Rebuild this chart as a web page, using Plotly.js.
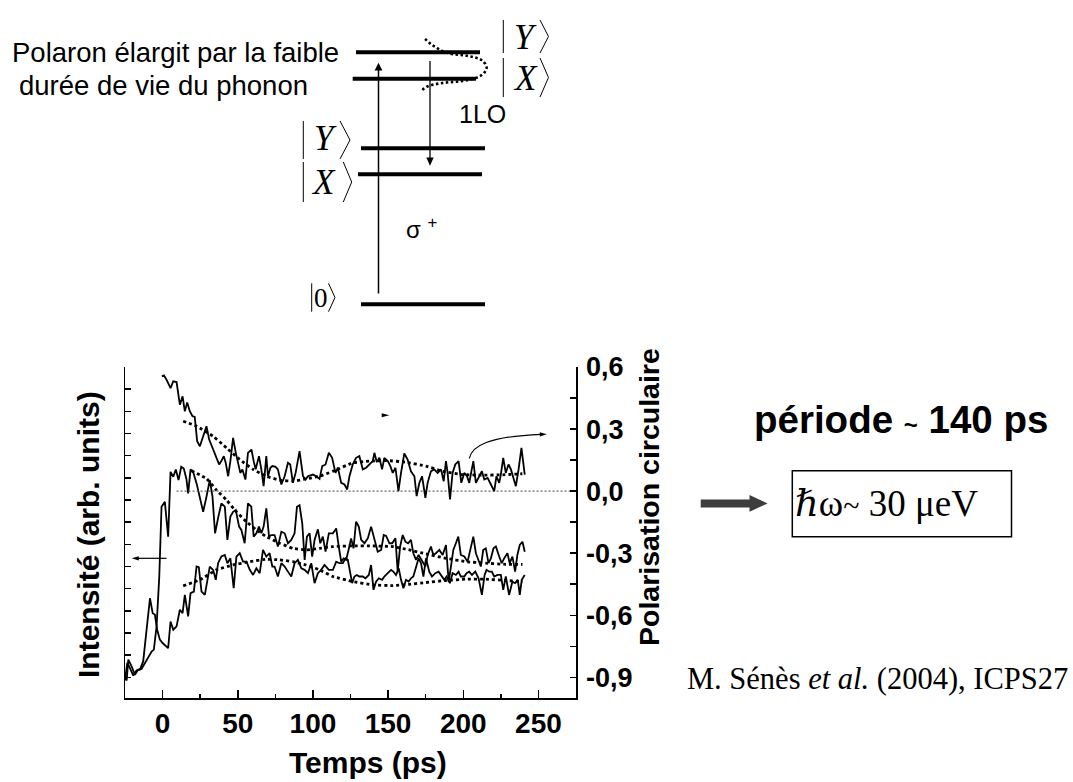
<!DOCTYPE html>
<html><head><meta charset="utf-8">
<script src="https://cdn.plot.ly/plotly-3.0.1.min.js"></script>
<style>html,body{margin:0;padding:0;background:#fff}#chart{width:1073px;height:782px}</style>
</head><body><div id="chart"></div>
<script>
// ---------- DATA ----------
// Circular polarisation (right axis): [time ps, polarisation]
const polarisation = [[-0.5,0.555],[0.9,0.559],[2.6,0.539],[5.3,0.498],[7.1,0.531],[9.3,0.527],[11.5,0.418],[13.3,0.458],[14.8,0.386],[16.4,0.429],[18.1,0.386],[19.9,0.362],[21.4,0.359],[23.0,0.241],[24.8,0.217],[27.0,0.265],[29.2,0.314],[31.0,0.249],[33.6,0.201],[35.8,0.169],[37.6,0.129],[39.1,0.145],[40.7,0.169],[42.0,0.137],[43.6,0.072],[45.1,0.145],[46.9,0.257],[48.7,0.185],[50.2,0.137],[51.7,0.088],[53.1,0.105],[55.1,0.056],[56.8,0.185],[59.1,0.201],[60.6,0.145],[61.9,0.105],[64.1,0.169],[65.7,0.105],[67.2,0.024],[69.0,0.169],[70.1,0.072],[71.7,0.113],[73.0,0.121],[75.2,0.117],[76.7,0.105],[79.0,0.032],[81.2,0.072],[83.4,0.137],[84.9,0.129],[86.7,0.040],[88.5,0.088],[91.1,0.193],[93.4,0.072],[95.1,0.056],[96.7,0.072],[100.0,0.080],[102.2,0.072],[104.4,0.059],[106.2,0.121],[108.4,0.129],[110.6,0.185],[112.8,0.161],[115.0,0.088],[116.6,0.113],[118.8,0.040],[121.0,0.032],[122.8,0.008],[124.3,0.072],[126.5,0.129],[128.7,0.161],[130.9,0.169],[133.2,0.105],[135.4,0.113],[137.6,0.129],[139.8,0.145],[140.9,0.185],[142.5,0.140],[144.2,0.161],[146.0,0.105],[147.5,0.161],[149.8,0.145],[151.5,0.121],[153.1,0.088],[154.9,0.113],[156.9,0.000],[158.6,0.088],[160.8,0.182],[163.0,0.153],[165.2,0.096],[167.5,0.072],[169.0,-0.024],[170.8,0.040],[172.6,0.072],[174.8,-0.032],[176.3,0.040],[178.5,0.096],[180.7,0.105],[183.0,0.088],[185.2,0.105],[187.0,0.048],[188.5,0.145],[189.6,0.088],[191.2,-0.040],[192.9,0.088],[194.7,0.129],[196.9,0.145],[198.7,0.040],[200.7,0.088],[202.5,0.072],[204.0,0.040],[206.7,0.145],[208.4,0.040],[210.6,0.072],[212.4,0.096],[214.0,0.056],[216.2,0.064],[218.4,0.032],[220.6,0.000],[222.1,0.072],[223.9,0.040],[225.0,0.080],[226.6,0.161],[228.3,0.088],[230.1,0.129],[231.7,0.105],[233.2,0.072],[235.0,0.024],[236.8,0.105],[238.7,0.209],[240.9,0.080]];
const polarisationFit = [[13.7,0.338],[22.6,0.314],[33.6,0.265],[42.5,0.209],[51.3,0.153],[60.2,0.105],[69.0,0.072],[77.9,0.053],[86.7,0.048],[95.5,0.059],[104.4,0.072],[113.3,0.096],[126.5,0.137],[137.6,0.145],[148.7,0.148],[161.9,0.140],[175.2,0.121],[186.3,0.096],[199.5,0.080],[212.8,0.077],[226.1,0.079],[239.3,0.084]];

// Intensity curves (left axis, arb. units): [time ps, intensity]
const intensityA = [[-25.0,-0.03],[-23.9,-0.14],[-22.8,0.80],[-20.6,0.50],[-18.4,0.12],[-16.2,0.35],[-14.0,0.38],[-11.8,0.65],[-9.5,0.92],[-7.3,1.16],[-5.8,1.25],[-4.0,2.30],[-2.2,4.55],[-0.7,7.70],[1.5,7.92],[3.7,6.35],[5.3,9.27],[7.1,9.05],[8.8,9.38],[10.6,8.90],[12.4,9.50],[14.1,9.42],[15.9,8.93],[17.0,8.30],[18.6,9.38],[20.3,9.27],[22.6,8.75],[24.8,8.15],[27.0,7.47],[29.2,8.15],[31.4,8.90],[33.2,8.15],[34.9,6.50],[37.1,7.25],[39.1,7.85],[41.4,7.70],[43.1,6.20],[45.1,7.25],[46.9,7.47],[48.7,7.55],[50.9,6.80],[52.4,6.65],[54.6,6.05],[56.8,7.85],[59.0,7.70],[60.6,6.35],[62.4,6.50],[64.1,6.80],[65.7,6.50],[67.2,6.80],[69.0,7.62],[70.8,6.35],[72.3,6.42],[74.5,6.42],[76.7,5.90],[79.0,6.57],[81.2,6.50],[83.4,6.05],[85.6,6.20],[87.8,6.50],[89.4,7.70],[91.1,7.77],[92.9,6.95],[94.5,5.30],[96.0,6.35],[97.8,6.50],[99.5,5.45],[101.1,6.20],[103.3,6.68],[104.9,6.05],[106.6,6.35],[108.4,5.67],[110.6,6.50],[113.3,6.50],[115.5,6.72],[117.2,5.90],[118.8,5.22],[120.4,5.37],[122.1,5.30],[123.7,5.75],[125.4,6.27],[127.0,5.82],[128.7,7.02],[130.5,6.80],[132.1,6.20],[134.3,6.05],[136.5,6.27],[138.7,6.80],[140.9,6.20],[143.1,5.67],[145.4,5.75],[147.1,6.42],[148.7,6.38],[150.9,6.05],[152.7,6.05],[154.9,6.27],[156.4,4.77],[158.0,5.90],[159.7,6.42],[161.5,6.12],[163.3,6.05],[165.2,6.20],[166.8,5.60],[168.6,5.30],[170.3,5.52],[172.6,5.22],[174.8,5.00],[176.3,5.52],[178.5,5.90],[180.1,5.52],[181.8,5.60],[184.1,5.75],[186.3,5.52],[188.5,5.97],[190.3,4.32],[191.8,5.00],[193.4,5.75],[195.1,6.05],[196.7,6.35],[198.4,5.52],[200.7,5.45],[202.9,5.22],[205.1,5.82],[206.7,6.35],[208.4,5.60],[210.2,5.22],[211.7,5.00],[213.3,5.75],[215.0,5.82],[216.8,5.15],[218.4,5.37],[220.1,5.82],[221.7,5.90],[223.9,5.45],[225.6,5.15],[227.2,5.37],[229.4,5.60],[230.9,5.15],[232.7,5.45],[234.5,4.77],[236.0,5.52],[237.6,5.97],[239.4,6.12],[240.9,5.67]];
const intensityAFit = [[19.2,9.32],[29.2,8.97],[35.8,8.45],[42.5,8.00],[49.1,7.47],[55.8,7.02],[62.4,6.65],[69.0,6.35],[77.9,6.05],[86.7,5.82],[95.5,5.75],[104.4,5.82],[113.3,5.90],[126.5,5.93],[139.8,5.93],[153.1,5.90],[164.2,5.75],[175.2,5.57],[188.5,5.37],[201.7,5.22],[215.0,5.15],[228.3,5.10],[239.4,5.10]];
const intensityB = [[-25.0,-0.11],[-23.5,0.65],[-21.7,0.42],[-19.5,0.08],[-17.3,0.32],[-15.1,0.35],[-12.9,0.72],[-10.6,2.30],[-8.4,3.57],[-6.6,2.90],[-5.1,2.82],[-3.6,2.15],[-1.8,1.70],[0.0,1.55],[2.0,1.43],[3.7,1.32],[5.3,2.52],[7.1,2.15],[9.3,2.30],[11.5,3.05],[13.3,2.90],[14.8,3.72],[17.0,2.75],[18.6,3.80],[20.8,3.87],[22.6,5.00],[24.1,4.97],[25.9,3.87],[28.1,3.72],[31.4,5.00],[33.6,4.85],[35.4,4.40],[36.9,5.15],[39.1,5.45],[41.4,5.52],[43.1,5.15],[45.1,5.37],[47.3,4.02],[49.1,5.45],[51.3,5.60],[53.5,5.22],[55.8,5.22],[58.0,4.85],[60.2,4.62],[62.4,4.92],[64.6,4.70],[66.8,5.75],[69.0,5.45],[71.2,5.60],[73.0,5.00],[74.5,5.00],[76.7,4.55],[79.0,5.15],[81.2,5.00],[83.4,4.77],[85.6,4.55],[87.8,5.15],[90.0,5.30],[92.3,4.92],[94.5,4.85],[96.7,4.70],[98.9,5.15],[101.1,4.25],[103.3,4.70],[105.5,4.85],[107.7,5.07],[110.6,4.85],[113.3,4.85],[115.5,5.22],[117.7,5.15],[119.9,5.15],[121.7,5.37],[123.2,5.30],[124.8,4.77],[126.1,4.25],[127.6,4.55],[129.2,4.62],[130.9,4.55],[133.2,4.55],[134.9,4.47],[137.2,4.62],[138.7,5.07],[140.3,3.95],[142.0,4.32],[143.8,4.47],[146.0,4.40],[147.5,4.55],[149.8,4.70],[152.0,4.85],[153.5,4.77],[155.3,4.62],[157.1,4.92],[158.6,4.40],[160.2,4.02],[161.9,4.40],[163.7,4.32],[165.2,4.47],[166.8,4.55],[168.6,5.00],[170.3,5.37],[171.9,5.15],[173.5,4.55],[175.2,5.37],[177.4,4.77],[179.2,4.55],[181.4,4.70],[183.6,4.77],[185.8,4.55],[187.4,4.40],[188.9,4.55],[191.1,4.25],[192.9,4.70],[195.1,4.62],[196.9,4.77],[198.4,4.55],[200.7,4.55],[202.2,4.70],[204.0,4.77],[205.8,4.62],[208.0,4.77],[210.2,4.47],[212.4,3.72],[214.2,4.62],[215.5,4.85],[217.3,4.77],[219.0,4.77],[220.6,4.55],[222.8,4.62],[225.0,4.62],[226.6,3.95],[228.3,4.55],[230.5,3.72],[232.7,4.32],[234.5,4.25],[236.3,4.40],[237.6,3.72],[238.9,4.40],[240.9,4.62]];
const intensityBFit = [[13.7,4.13],[24.8,4.40],[35.8,4.85],[46.9,5.07],[57.9,5.22],[69.0,5.33],[77.9,5.30],[86.7,5.22],[95.5,5.07],[104.4,4.85],[113.3,4.55],[126.5,4.32],[139.8,4.17],[153.1,4.14],[164.2,4.20],[175.2,4.28],[188.5,4.37],[201.7,4.43],[215.0,4.43],[228.3,4.37],[239.4,4.32]];

// zero reference of the polarisation
const zeroLineT = [9.3, 275];
const zeroLineV = [0, 0];

// tick labels
const xTickVals = [0, 50, 100, 150, 200, 250];
const xTickText = ['0', '50', '100', '150', '200', '250'];
const polTickVals = [-0.9, -0.6, -0.3, 0.0, 0.3, 0.6];
const polTickText = ['-0,9', '-0,6', '-0,3', '0,0', '0,3', '0,6'];
const polMinorVals = [-0.75, -0.45, -0.15, 0.15, 0.45];

// ---------- LAYOUT HELPERS ----------
const PW = 1073, PH = 782, ML = 125, MR = 497, MT = 367, MB = 84;
const pw = PW - ML - MR, ph = PH - MT - MB;
const PX = v => (v - ML) / pw;            // page pixel -> paper x
const PY = v => (PH - MB - v) / ph;       // page pixel -> paper y
const ptsPath = (pts, close) => pts.map((p, i) => (i ? 'L' : 'M') + PX(p[0]).toFixed(5) + ',' + PY(p[1]).toFixed(5)).join(' ') + (close ? ' Z' : '');

const SANS = 'Liberation Sans, Arial, Helvetica, sans-serif';
const SERIF = 'Liberation Serif, Times New Roman, DejaVu Serif, serif';

const xs = a => a.map(p => p[0]);
const ys = a => a.map(p => p[1]);

const solid = {color: '#000', width: 1.8, shape: 'linear'};
const dotted = {color: '#000', width: 2.8, dash: '3px,3px', shape: 'spline', smoothing: 0.3};

const traces = [
  {x: xs(intensityB), y: ys(intensityB), yaxis: 'y', mode: 'lines', line: solid, name: 'Intensité 2'},
  {x: xs(intensityA), y: ys(intensityA), yaxis: 'y', mode: 'lines', line: solid, name: 'Intensité 1'},
  {x: xs(intensityAFit), y: ys(intensityAFit), yaxis: 'y', mode: 'lines', line: dotted, name: 'Ajustement 1'},
  {x: xs(intensityBFit), y: ys(intensityBFit), yaxis: 'y', mode: 'lines', line: dotted, name: 'Ajustement 2'},
  {x: zeroLineT, y: zeroLineV, yaxis: 'y2', mode: 'lines', line: {color: '#666', width: 1.3, dash: '2px,2px'}, name: 'zéro'},
  {x: xs(polarisation), y: ys(polarisation), yaxis: 'y2', mode: 'lines', line: solid, name: 'Polarisation circulaire'},
  {x: xs(polarisationFit), y: ys(polarisationFit), yaxis: 'y2', mode: 'lines', line: dotted, name: 'Ajustement polarisation'}
];
traces.forEach(t => { t.showlegend = false; t.hoverinfo = 'skip'; });

const L = (x0, y0, x1, y1, w) => ({type: 'line', xref: 'paper', yref: 'paper', x0: PX(x0), y0: PY(y0), x1: PX(x1), y1: PY(y1), line: {color: '#000', width: w}});
const P = (pts, close, line, fill) => ({type: 'path', xref: 'paper', yref: 'paper', path: ptsPath(pts, close), line: line, fillcolor: fill || 'rgba(0,0,0,0)'});
const ket = (xb, xk, xt, y0, y1) => [L(xb, y0, xb, y1, 1), P([[xk, y0], [xt, (y0 + y1) / 2], [xk, y1]], false, {color: '#000', width: 1})];

const dottedCurve = [[425,39],[428.3,41.7],[431.7,45],[436,47.3],[440,50],[445,52.3],[451.7,54],[458.3,54.7],[465,55.3],[471.7,56.7],[478.3,58.3],[482.7,60.7],[485.3,64],[486.7,67.7],[485.7,70.7],[484,73.3],[480.7,75.7],[476.7,77.7],[471.7,79.3],[465,80.7],[456.7,81.7],[448.3,82.3],[440,83.3],[431.7,85],[426.7,86.7],[423.3,89],[421.7,91.7]];

const shapes = [
  // energy levels
  L(356, 52.3, 480, 52.3, 4),
  L(352.7, 78.7, 476, 78.7, 4),
  L(361, 148.3, 485, 148.3, 4),
  L(358, 174.3, 482, 174.3, 4),
  L(361, 304.3, 485, 304.3, 4),
  // sigma+ excitation arrow
  L(378.5, 293.5, 378.5, 69, 1.5),
  P([[374.6,70.5],[378.5,62.7],[382.4,70.5]], true, {width: 0}, '#000'),
  // 1LO relaxation arrow
  L(430, 61, 430, 158.5, 1.3),
  P([[426.3,157.5],[430,165.7],[433.7,157.5]], true, {width: 0}, '#000'),
  // broadened polaron (dotted)
  {type: 'path', xref: 'paper', yref: 'paper', path: ptsPath(dottedCurve, false), line: {color: '#000', width: 2.6, dash: '2.5px,2.5px'}},
  // ket bars and brackets
  ...ket(503.3, 540, 548.5, 20, 53),
  ...ket(503.3, 540, 548.5, 58, 97),
  ...ket(303.3, 340, 350, 121, 159),
  ...ket(303.3, 343.3, 351.7, 162, 202),
  ...ket(311.7, 328.5, 335, 283.3, 311.7),
  // arrows inside the plot
  L(166.5, 558.3, 136, 558.3, 1.2),
  P([[138.8,556.2],[131.7,558.3],[138.8,560.4]], true, {width: 0}, '#000'),
  {type: 'path', xref: 'paper', yref: 'paper', path: 'M' + PX(469.3) + ',' + PY(458.3) + ' C' + PX(472) + ',' + PY(446) + ' ' + PX(488) + ',' + PY(436.5) + ' ' + PX(541) + ',' + PY(434.3), line: {color: '#000', width: 1.2}},
  P([[539.8,432.2],[546.8,434.3],[539.8,436.4]], true, {width: 0}, '#000'),
  P([[381.7,413.2],[389.3,415.2],[381.7,417.2]], true, {width: 0}, '#000'),
  // thick arrow and box
  {type: 'rect', xref: 'paper', yref: 'paper', x0: PX(700.7), x1: PX(751), y0: PY(499.4), y1: PY(507.4), line: {width: 0}, fillcolor: '#3d3d3d'},
  P([[749.5,495],[767.5,503.4],[749.5,511.8]], true, {width: 0}, '#3d3d3d'),
  {type: 'rect', xref: 'paper', yref: 'paper', x0: PX(792.3), x1: PX(1011.5), y0: PY(470.8), y1: PY(536.8), line: {color: '#000', width: 1.5}}
];

const A = (text, x, y, size, family, extra) => Object.assign({text: text, xref: 'paper', yref: 'paper', x: PX(x), y: PY(y), showarrow: false, xanchor: 'center', yanchor: 'middle', font: {family: family, size: size, color: '#000'}}, extra || {});

const annotations = [
  A('Polaron élargit par la faible', 10, 53, 27.5, SANS, {xanchor: 'left'}),
  A('durée de vie du phonon', 17, 85, 27.5, SANS, {xanchor: 'left'}),
  A('1LO', 482.5, 114, 25, SANS),
  A('<i>Y</i>', 525.5, 37.5, 35, SERIF),
  A('<i>X</i>', 525.5, 78.5, 35, SERIF),
  A('<i>Y</i>', 325, 138, 35, SERIF),
  A('<i>X</i>', 323.5, 182, 35, SERIF),
  A('0', 321.3, 298.5, 27, SERIF),
  A('σ <sup>+</sup>', 421, 228, 24, SANS),
  A('<b>période <span style="font-size:24px">~</span> 140 ps</b>', 752, 419, 38.5, SANS, {xanchor: 'left'}),
  A('<i>ℏ</i>ω<span style="font-size:30px">~</span> 30 μeV', 793, 503, 37, SERIF, {xanchor: 'left'}),
  A('M. Sénès <i>et al.</i> (2004), ICPS27', 685, 679, 30.5, SERIF, {xanchor: 'left'}),
  A('<b>Intensité (arb. units)</b>', 88, 535, 30, SANS, {textangle: -90}),
  A('<b>Polarisation circulaire</b>', 649, 497, 28.5, SANS, {textangle: -90}),
  A('<b>Temps (ps)</b>', 367.5, 762, 30, SANS)
];

const axisCommon = {showgrid: false, zeroline: false, showline: true, linecolor: '#000', linewidth: 1.5, ticks: 'inside', tickcolor: '#000', tickwidth: 1.5};
const layout = {
  width: PW, height: PH,
  margin: {l: ML, r: MR, t: MT, b: MB, autoexpand: false},
  paper_bgcolor: '#fff', plot_bgcolor: '#fff',
  showlegend: false,
  xaxis: Object.assign({}, axisCommon, {range: [-25, 275], tickmode: 'array', tickvals: xTickVals, ticktext: xTickText, ticklen: 8,
    tickfont: {family: SANS, size: 28, weight: 'bold', color: '#000'}, ticklabelstandoff: 0,
    minor: {dtick: 25, tick0: 0, ticks: 'inside', ticklen: 4, tickwidth: 1.5, tickcolor: '#000', showgrid: false}}),
  yaxis: Object.assign({}, axisCommon, {range: [-0.93, 14], tick0: 0, dtick: 1, ticklen: 6, showticklabels: false}),
  yaxis2: Object.assign({}, axisCommon, {overlaying: 'y', side: 'right', range: [-1.0, 0.6], tickmode: 'array', tickvals: polTickVals, ticktext: polTickText, ticklen: 6,
    tickfont: {family: SANS, size: 27, weight: 'bold', color: '#000'}, ticklabelstandoff: 3,
    minor: {tickmode: 'array', tickvals: polMinorVals, ticks: 'inside', ticklen: 6, tickwidth: 1.5, tickcolor: '#000', showgrid: false}}),
  shapes: shapes,
  annotations: annotations
};

Plotly.newPlot('chart', traces, layout, {staticPlot: true, displayModeBar: false});
</script></body></html>
